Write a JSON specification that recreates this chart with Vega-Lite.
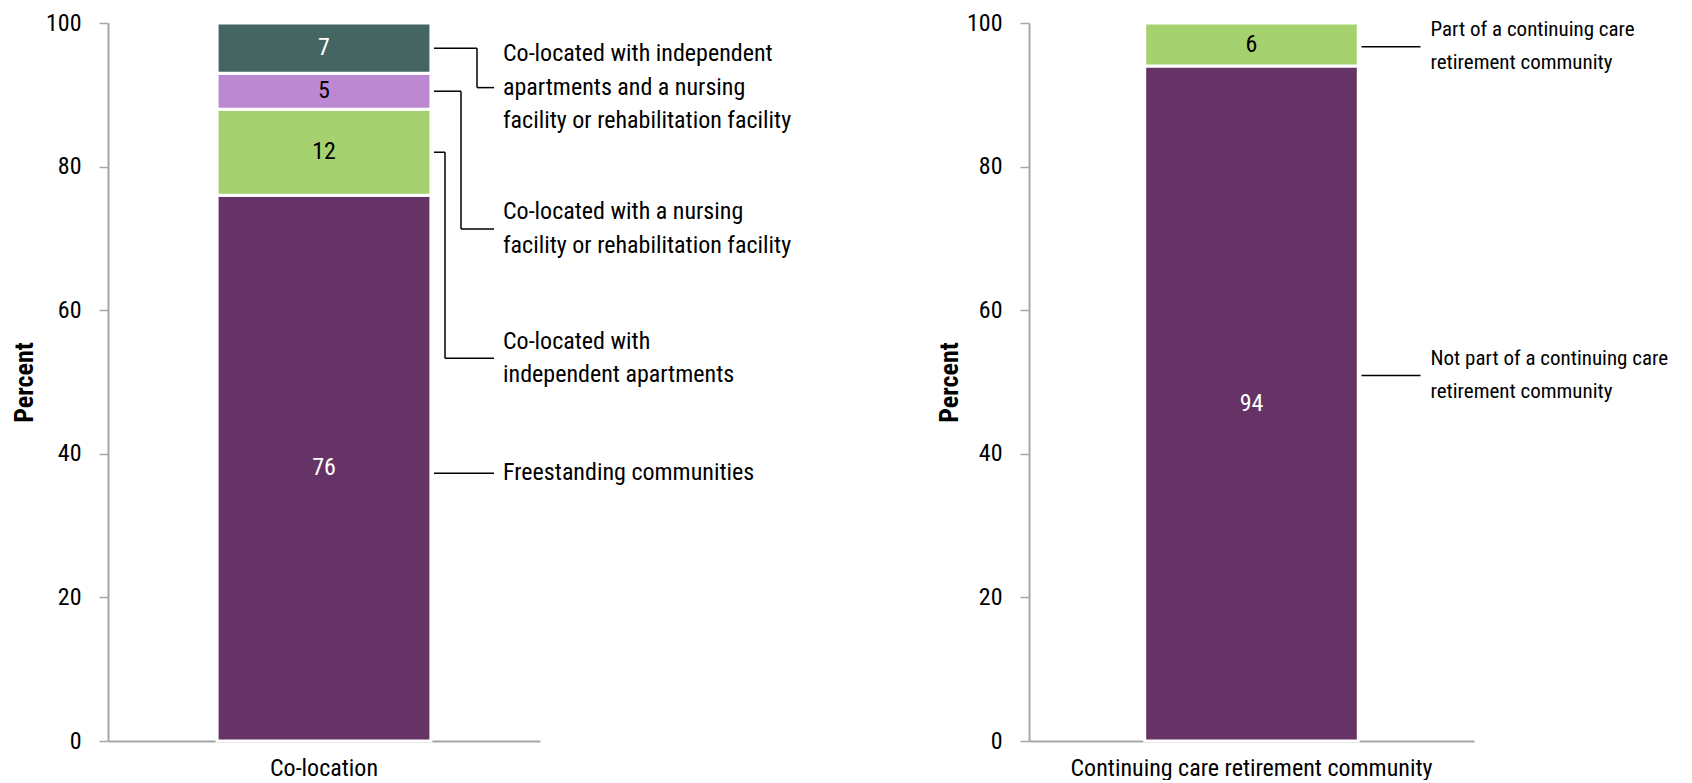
{
  "$schema": "https://vega.github.io/schema/vega-lite/v6.json",
  "padding": {"left": 11, "top": 11, "right": 0, "bottom": 0},
  "bounds": "flush",
  "spacing": 489,
  "config": {
    "font": "Roboto Condensed, DejaVu Sans Condensed, Liberation Sans, sans-serif",
    "view": {"stroke": null},
    "axis": {"domainColor": "#a6a6a6", "domainWidth": 2, "tickColor": "#a6a6a6", "tickWidth": 1.5, "labelColor": "#000000", "labelFontSize": 24, "titleColor": "#000000", "grid": false, "zindex": 1, "labelLimit": 0}
  },
  "hconcat": [
    {
      "width": 432,
      "height": 718,
      "data": {"values": [
        {"chart": "Co-location", "segment": "Freestanding communities", "value": 76, "order": 1, "label": "Freestanding communities", "labelAt": 37.3},
        {"chart": "Co-location", "segment": "Co-located with independent apartments", "value": 12, "order": 2, "label": "Co-located with\nindependent apartments", "labelAt": 53.3},
        {"chart": "Co-location", "segment": "Co-located with a nursing facility or rehabilitation facility", "value": 5, "order": 3, "label": "Co-located with a nursing\nfacility or rehabilitation facility", "labelAt": 71.3},
        {"chart": "Co-location", "segment": "Co-located with independent apartments and a nursing facility or rehabilitation facility", "value": 7, "order": 4, "label": "Co-located with independent\napartments and a nursing\nfacility or rehabilitation facility", "labelAt": 91}
      ]},
      "transform": [
        {"stack": "value", "groupby": ["chart"], "sort": [{"field": "order", "order": "ascending"}], "as": ["y0", "y1"]},
        {"calculate": "(datum.y0 + datum.y1) / 2", "as": "mid"}
      ],
      "encoding": {
        "x": {"field": "chart", "type": "nominal", "bandPosition": 0.5, "scale": {"paddingInner": 0, "paddingOuter": 0}, "axis": {"title": null, "ticks": false, "labelAngle": 0, "labelPadding": 15, "labelFontSize": 24}}
      },
      "layer": [
        {
          "mark": {"type": "bar", "width": {"band": 0.495}, "stroke": "#ffffff", "strokeWidth": 3},
          "encoding": {
            "x": {"field": "chart", "type": "nominal"},
            "y": {"field": "y0", "type": "quantitative", "scale": {"domain": [0, 100]}, "axis": {"values": [0, 20, 40, 60, 80, 100], "title": "Percent", "titleFontWeight": "bold", "titleFontSize": 26, "titlePadding": 8, "tickSize": 9, "labelPadding": 18}},
            "y2": {"field": "y1"},
            "color": {"field": "segment", "type": "nominal", "legend": null, "scale": {
              "domain": ["Freestanding communities", "Co-located with independent apartments", "Co-located with a nursing facility or rehabilitation facility", "Co-located with independent apartments and a nursing facility or rehabilitation facility", "Not part of a continuing care retirement community", "Part of a continuing care retirement community"],
              "range": ["#663366", "#a5d16f", "#bd88d2", "#456563", "#663366", "#a5d16f"]}}
          }
        },
        {
          "mark": {"type": "text", "fontSize": 24, "baseline": "middle", "align": "center"},
          "encoding": {
            "y": {"field": "mid", "type": "quantitative"},
            "text": {"field": "value", "type": "quantitative"},
            "color": {"condition": {"test": "datum.order == 1 || datum.order == 4", "value": "#ffffff"}, "value": "#000000"}
          }
        },
        {
          "transform": [{"filter": "length(split(datum.label, '\\n')) == 1"}],
          "mark": {"type": "text", "fontSize": 24, "align": "left", "baseline": "middle", "dx": 179, "lineBreak": "\n", "lineHeight": 33.5, "color": "#000000"},
          "encoding": {"y": {"field": "labelAt", "type": "quantitative"}, "text": {"field": "label", "type": "nominal"}}
        },
        {
          "transform": [{"filter": "length(split(datum.label, '\\n')) == 2"}],
          "mark": {"type": "text", "fontSize": 24, "align": "left", "baseline": "middle", "dx": 179, "dy": -16.75, "lineBreak": "\n", "lineHeight": 33.5, "color": "#000000"},
          "encoding": {"y": {"field": "labelAt", "type": "quantitative"}, "text": {"field": "label", "type": "nominal"}}
        },
        {
          "transform": [{"filter": "length(split(datum.label, '\\n')) == 3"}],
          "mark": {"type": "text", "fontSize": 24, "align": "left", "baseline": "middle", "dx": 179, "dy": -33.5, "lineBreak": "\n", "lineHeight": 33.5, "color": "#000000"},
          "encoding": {"y": {"field": "labelAt", "type": "quantitative"}, "text": {"field": "label", "type": "nominal"}}
        },
        {
          "transform": [{"filter": "datum.order == 1"}],
          "mark": {"type": "rule", "xOffset": 110, "x2Offset": 170, "color": "#000000", "strokeWidth": 1.5},
          "encoding": {"x2": {"field": "chart"}, "y": {"field": "labelAt", "type": "quantitative"}}
        },
        {
          "transform": [{"filter": "datum.order == 2"}],
          "mark": {"type": "rule", "xOffset": 110, "x2Offset": 121, "color": "#000000", "strokeWidth": 1.5},
          "encoding": {"x2": {"field": "chart"}, "y": {"field": "mid", "type": "quantitative"}}
        },
        {
          "transform": [{"filter": "datum.order == 2"}],
          "mark": {"type": "rule", "xOffset": 121, "color": "#000000", "strokeWidth": 1.5},
          "encoding": {"y": {"field": "mid", "type": "quantitative"}, "y2": {"field": "labelAt"}}
        },
        {
          "transform": [{"filter": "datum.order == 2"}],
          "mark": {"type": "rule", "xOffset": 121, "x2Offset": 170, "color": "#000000", "strokeWidth": 1.5},
          "encoding": {"x2": {"field": "chart"}, "y": {"field": "labelAt", "type": "quantitative"}}
        },
        {
          "transform": [{"filter": "datum.order == 3"}],
          "mark": {"type": "rule", "xOffset": 110, "x2Offset": 137, "color": "#000000", "strokeWidth": 1.5},
          "encoding": {"x2": {"field": "chart"}, "y": {"field": "mid", "type": "quantitative"}}
        },
        {
          "transform": [{"filter": "datum.order == 3"}],
          "mark": {"type": "rule", "xOffset": 137, "color": "#000000", "strokeWidth": 1.5},
          "encoding": {"y": {"field": "mid", "type": "quantitative"}, "y2": {"field": "labelAt"}}
        },
        {
          "transform": [{"filter": "datum.order == 3"}],
          "mark": {"type": "rule", "xOffset": 137, "x2Offset": 170, "color": "#000000", "strokeWidth": 1.5},
          "encoding": {"x2": {"field": "chart"}, "y": {"field": "labelAt", "type": "quantitative"}}
        },
        {
          "transform": [{"filter": "datum.order == 4"}],
          "mark": {"type": "rule", "xOffset": 110, "x2Offset": 153, "color": "#000000", "strokeWidth": 1.5},
          "encoding": {"x2": {"field": "chart"}, "y": {"field": "mid", "type": "quantitative"}}
        },
        {
          "transform": [{"filter": "datum.order == 4"}],
          "mark": {"type": "rule", "xOffset": 153, "color": "#000000", "strokeWidth": 1.5},
          "encoding": {"y": {"field": "mid", "type": "quantitative"}, "y2": {"field": "labelAt"}}
        },
        {
          "transform": [{"filter": "datum.order == 4"}],
          "mark": {"type": "rule", "xOffset": 153, "x2Offset": 170, "color": "#000000", "strokeWidth": 1.5},
          "encoding": {"x2": {"field": "chart"}, "y": {"field": "labelAt", "type": "quantitative"}}
        }
      ]
    },
    {
      "width": 445,
      "height": 718,
      "data": {"values": [
        {"chart": "Continuing care retirement community", "segment": "Not part of a continuing care retirement community", "value": 94, "order": 1, "label": "Not part of a continuing care\nretirement community", "labelAt": 50.9},
        {"chart": "Continuing care retirement community", "segment": "Part of a continuing care retirement community", "value": 6, "order": 2, "label": "Part of a continuing care\nretirement community", "labelAt": 96.7}
      ]},
      "transform": [
        {"stack": "value", "groupby": ["chart"], "sort": [{"field": "order", "order": "ascending"}], "as": ["y0", "y1"]},
        {"calculate": "(datum.y0 + datum.y1) / 2", "as": "mid"}
      ],
      "encoding": {
        "x": {"field": "chart", "type": "nominal", "bandPosition": 0.5, "scale": {"paddingInner": 0, "paddingOuter": 0}, "axis": {"title": null, "ticks": false, "labelAngle": 0, "labelPadding": 15, "labelFontSize": 24}}
      },
      "layer": [
        {
          "mark": {"type": "bar", "width": {"band": 0.48}, "stroke": "#ffffff", "strokeWidth": 3},
          "encoding": {
            "x": {"field": "chart", "type": "nominal"},
            "y": {"field": "y0", "type": "quantitative", "scale": {"domain": [0, 100]}, "axis": {"values": [0, 20, 40, 60, 80, 100], "title": "Percent", "titleFontWeight": "bold", "titleFontSize": 26, "titlePadding": 4, "tickSize": 9, "labelPadding": 18}},
            "y2": {"field": "y1"},
            "color": {"field": "segment", "type": "nominal", "legend": null, "scale": {
              "domain": ["Freestanding communities", "Co-located with independent apartments", "Co-located with a nursing facility or rehabilitation facility", "Co-located with independent apartments and a nursing facility or rehabilitation facility", "Not part of a continuing care retirement community", "Part of a continuing care retirement community"],
              "range": ["#663366", "#a5d16f", "#bd88d2", "#456563", "#663366", "#a5d16f"]}}
          }
        },
        {
          "mark": {"type": "text", "fontSize": 24, "baseline": "middle", "align": "center"},
          "encoding": {
            "y": {"field": "mid", "type": "quantitative"},
            "text": {"field": "value", "type": "quantitative"},
            "color": {"condition": {"test": "datum.order == 1", "value": "#ffffff"}, "value": "#000000"}
          }
        },
        {
          "mark": {"type": "text", "fontSize": 21, "align": "left", "baseline": "middle", "dx": 179, "dy": -16.5, "lineBreak": "\n", "lineHeight": 33, "color": "#000000"},
          "encoding": {"y": {"field": "labelAt", "type": "quantitative"}, "text": {"field": "label", "type": "nominal"}}
        },
        {
          "mark": {"type": "rule", "xOffset": 110, "x2Offset": 169, "color": "#000000", "strokeWidth": 1.5},
          "encoding": {"x2": {"field": "chart"}, "y": {"field": "labelAt", "type": "quantitative"}}
        }
      ]
    }
  ]
}
